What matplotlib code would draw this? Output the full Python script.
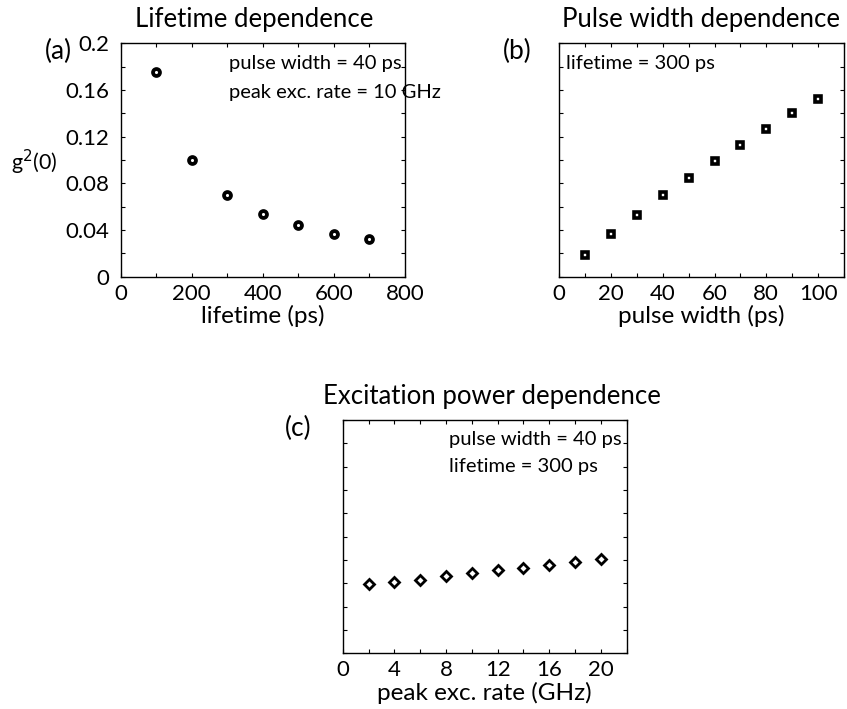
import matplotlib
matplotlib.use("Agg")
import matplotlib.pyplot as plt
from matplotlib.ticker import MultipleLocator

plt.rcParams['font.family'] = ['Lato', 'DejaVu Sans']

# (a) g2(0) vs emitter lifetime
lifetime_ps = [100, 200, 300, 400, 500, 600, 700]
g2_lifetime = [0.175, 0.100, 0.070, 0.054, 0.044, 0.037, 0.032]

# (b) g2(0) vs pulse width
pulse_width_ps = [10, 20, 30, 40, 50, 60, 70, 80, 90, 100]
g2_pulse = [0.019, 0.037, 0.053, 0.070, 0.085, 0.099, 0.113, 0.127, 0.140, 0.152]

# (c) g2(0) vs peak excitation rate
exc_rate_ghz = [2, 4, 6, 8, 10, 12, 14, 16, 18, 20]
g2_exc = [0.059, 0.061, 0.063, 0.066, 0.069, 0.071, 0.073, 0.076, 0.078, 0.081]

y_ticks = [0, 0.04, 0.08, 0.12, 0.16, 0.2]
y_ticklabels = ['0', '0.04', '0.08', '0.12', '0.16', '0.2']

TITLE_FS = 18.5
LABEL_FS = 17.5
TICK_FS = 16
NOTE_FS = 14.5
PANEL_FS = 19

fig = plt.figure(figsize=(8.47, 7.09), dpi=100)
ax_a = fig.add_axes([0.1425, 0.6097, 0.3357, 0.3292])
ax_b = fig.add_axes([0.6603, 0.6097, 0.3361, 0.3292])
ax_c = fig.add_axes([0.4046, 0.0786, 0.3353, 0.3292])


def style_axes(ax, xmax, xmajor, xminor, show_y):
    ax.set_xlim(0, xmax)
    ax.set_ylim(0, 0.2)
    ax.xaxis.set_major_locator(MultipleLocator(xmajor))
    ax.xaxis.set_minor_locator(MultipleLocator(xminor))
    ax.set_yticks(y_ticks)
    ax.yaxis.set_minor_locator(MultipleLocator(0.02))
    if show_y:
        ax.set_yticklabels(y_ticklabels)
    else:
        ax.set_yticklabels([])
    ax.tick_params(which='both', direction='in', top=True, right=True,
                   length=3, width=0.8, labelsize=TICK_FS)
    ax.tick_params(axis='x', pad=5)
    ax.tick_params(axis='y', pad=8)
    for s in ax.spines.values():
        s.set_linewidth(1.0)


# (a)
ax_a.plot(lifetime_ps, g2_lifetime, 'o', mfc='white', mec='black',
          ms=5, mew=2.7)
style_axes(ax_a, 800, 200, 100, True)
ax_a.set_xlabel('lifetime (ps)', fontsize=LABEL_FS, labelpad=1)
ax_a.text(-0.385, 0.49, r'g$^2$(0)', transform=ax_a.transAxes,
          fontsize=15.5, ha='left', va='center')
ax_a.text(0.469, 1.1, 'Lifetime dependence', transform=ax_a.transAxes,
          fontsize=TITLE_FS, ha='center', va='center')
ax_a.text(-0.218, 0.963, '(a)', transform=ax_a.transAxes,
          fontsize=PANEL_FS, ha='center', va='center')
ax_a.text(0.381, 0.9156, 'pulse width = 40 ps', transform=ax_a.transAxes,
          fontsize=NOTE_FS, ha='left', va='center', clip_on=False)
ax_a.text(0.381, 0.791, 'peak exc. rate = 10 GHz', transform=ax_a.transAxes,
          fontsize=NOTE_FS, ha='left', va='center', clip_on=False)

# (b)
ax_b.plot(pulse_width_ps, g2_pulse, 's', mfc='white', mec='black',
          ms=4.7, mew=2.6)
style_axes(ax_b, 110, 20, 10, False)
ax_b.set_xlabel('pulse width (ps)', fontsize=LABEL_FS, labelpad=1)
ax_b.text(0.498, 1.1, 'Pulse width dependence', transform=ax_b.transAxes,
          fontsize=TITLE_FS, ha='center', va='center')
ax_b.text(-0.148, 0.963, '(b)', transform=ax_b.transAxes,
          fontsize=PANEL_FS, ha='center', va='center')
ax_b.text(0.0225, 0.9156, 'lifetime = 300 ps', transform=ax_b.transAxes,
          fontsize=NOTE_FS, ha='left', va='center')

# (c)
ax_c.plot(exc_rate_ghz, g2_exc, 'D', mfc='white', mec='black',
          ms=5, mew=2.0)
style_axes(ax_c, 22, 4, 2, False)
ax_c.set_xlabel('peak exc. rate (GHz)', fontsize=LABEL_FS, labelpad=1)
ax_c.text(0.526, 1.1, 'Excitation power dependence', transform=ax_c.transAxes,
          fontsize=TITLE_FS, ha='center', va='center')
ax_c.text(-0.158, 0.963, '(c)', transform=ax_c.transAxes,
          fontsize=PANEL_FS, ha='center', va='center')
ax_c.text(0.374, 0.914, 'pulse width = 40 ps', transform=ax_c.transAxes,
          fontsize=NOTE_FS, ha='left', va='center', clip_on=False)
ax_c.text(0.374, 0.7985, 'lifetime = 300 ps', transform=ax_c.transAxes,
          fontsize=NOTE_FS, ha='left', va='center')

fig.savefig('out.png', dpi=100)
